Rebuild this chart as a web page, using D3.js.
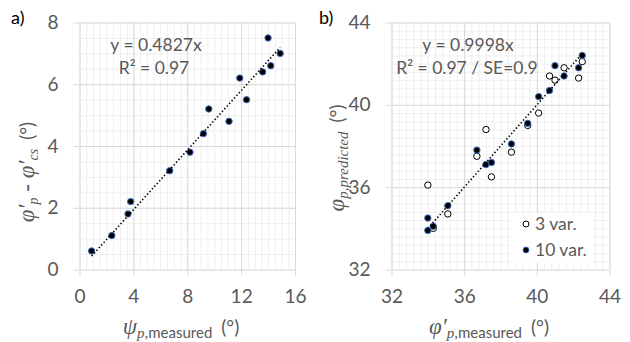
<!DOCTYPE html>
<html>
<head>
<script src="https://d3js.org/d3.v7.min.js"></script>
<style>
  body { margin: 0; background: #fff; }
  .tick text { font-family: Lato, "Open Sans", sans-serif; font-size: 19px; fill: #595959; }
  .grid line { stroke: #d9d9d9; }
  .minor line { stroke: #efefef; }
  .grid path, .minor path { display: none; }
  .ann { font-family: Lato, "Open Sans", sans-serif; font-size: 17.5px; fill: #595959; }
  .title { font-family: Lato, "Open Sans", sans-serif; font-size: 19px; fill: #595959; }
  .greek { font-family: "Liberation Serif", "DejaVu Serif", serif; font-style: italic; }
</style>
</head>
<body>
<svg width="630" height="342"></svg>
<script>
// panel a) data
const aMeasured = [0.9, 2.4, 3.6, 3.8, 6.7, 8.2, 9.2, 9.6, 11.1, 11.9, 12.4, 13.6, 14.0, 14.2, 14.9];
const aDiff     = [0.6, 1.1, 1.8, 2.2, 3.2, 3.8, 4.4, 5.2, 4.8, 6.2, 5.5, 6.4, 7.5, 6.6, 7.0];
const aSlope = 0.4827;
const aTrendX = [0.9, 14.9];
const aXTicks = [0, 4, 8, 12, 16];
const aYTicks = [0, 2, 4, 6, 8];

// panel b) data
const b10Measured  = [34.0, 34.0, 34.3, 35.1, 36.7, 37.2, 37.5, 38.6, 39.5, 40.1, 40.7, 41.0, 41.5, 42.3, 42.5];
const b10Predicted = [33.9, 34.5, 34.1, 35.1, 37.8, 37.1, 37.2, 38.1, 39.1, 40.4, 40.7, 41.9, 41.4, 41.8, 42.4];
const b3Measured   = [34.0, 34.3, 35.1, 36.7, 37.2, 37.5, 38.6, 39.5, 40.1, 40.7, 41.0, 41.5, 42.3, 42.5];
const b3Predicted  = [36.1, 34.0, 34.7, 37.5, 38.8, 36.5, 37.7, 39.0, 39.6, 41.4, 41.2, 41.8, 41.3, 42.1];
const bSlope = 0.9998;
const bTrendX = [34.0, 42.5];
const bTicks = [32, 36, 40, 44];

const svg = d3.select("svg");

function panel(opt) {
  const x = d3.scaleLinear().domain(opt.xDomain).range(opt.xRange);
  const y = d3.scaleLinear().domain(opt.yDomain).range(opt.yRange);
  const g = svg.append("g");
  const h = opt.yRange[0] - opt.yRange[1];
  const w = opt.xRange[1] - opt.xRange[0];

  // minor gridlines
  g.append("g").attr("class", "minor")
    .attr("transform", "translate(0," + opt.yRange[0] + ")")
    .call(d3.axisBottom(x).tickValues(d3.range(opt.xDomain[0], opt.xDomain[1] + 1e-9, opt.minor)).tickSize(-h).tickFormat(""));
  g.append("g").attr("class", "minor")
    .attr("transform", "translate(" + opt.xRange[0] + ",0)")
    .call(d3.axisLeft(y).tickValues(d3.range(opt.yDomain[0], opt.yDomain[1] + 1e-9, opt.minor)).tickSize(-w).tickFormat(""));

  // major gridlines + axes
  g.append("g").attr("class", "grid")
    .attr("transform", "translate(0," + opt.yRange[0] + ")")
    .call(d3.axisBottom(x).tickValues(opt.xTicks).tickSize(-h).tickFormat(""));
  g.append("g").attr("class", "grid")
    .attr("transform", "translate(" + opt.xRange[0] + ",0)")
    .call(d3.axisLeft(y).tickValues(opt.yTicks).tickSize(-w).tickFormat(""));
  g.append("g").attr("class", "grid")
    .attr("transform", "translate(0," + opt.yRange[0] + ")")
    .call(d3.axisBottom(x).tickValues(opt.xTicks).tickSize(6).tickPadding(14));
  g.append("g").attr("class", "grid")
    .attr("transform", "translate(" + opt.xRange[0] + ",0)")
    .call(d3.axisLeft(y).tickValues(opt.yTicks).tickSize(6).tickPadding(15));

  // series
  (opt.series || []).forEach(s => {
    g.append("g").selectAll("circle")
      .data(s.xs.map((v, i) => [v, s.ys[i]]))
      .join("circle")
      .attr("cx", d => x(d[0]))
      .attr("cy", d => y(d[1]))
      .attr("r", 3.2)
      .attr("fill", s.fill)
      .attr("stroke", s.stroke)
      .attr("stroke-width", 1);
  });

  // trendline
  g.append("line")
    .attr("x1", x(opt.trendX[0])).attr("y1", y(opt.slope * opt.trendX[0]))
    .attr("x2", x(opt.trendX[1])).attr("y2", y(opt.slope * opt.trendX[1]))
    .attr("stroke", "#000").attr("stroke-width", 1.6)
    .attr("stroke-dasharray", "1.4,2.2");
  return {x, y, g};
}

const pa = panel({
  xDomain: [0, 16], yDomain: [0, 8],
  xRange: [79.5, 295], yRange: [269.5, 22.5],
  xTicks: aXTicks, yTicks: aYTicks, minor: 0.5,
  trendX: aTrendX, slope: aSlope,
  series: [{xs: aMeasured, ys: aDiff, fill: "#000", stroke: "#4472c4"}]
});

const pb = panel({
  xDomain: [32, 44], yDomain: [32, 44],
  xRange: [391.5, 609.5], yRange: [269.5, 22.5],
  xTicks: bTicks, yTicks: bTicks, minor: 0.4,
  trendX: bTrendX, slope: bSlope,
  series: [
    {xs: b3Measured, ys: b3Predicted, fill: "#fff", stroke: "#000"},
    {xs: b10Measured, ys: b10Predicted, fill: "#000", stroke: "#4472c4"}
  ]
});

// panel letters
svg.append("text").attr("x", 11).attr("y", 24)
  .style("font-family", "Lato, sans-serif").style("font-size", "18px").text("a)");
svg.append("text").attr("x", 319).attr("y", 24)
  .style("font-family", "Lato, sans-serif").style("font-size", "18px").text("b)");

// equations
svg.append("text").attr("class", "ann").attr("text-anchor", "middle")
  .attr("x", 156).attr("y", 51).text("y = 0.4827x");
svg.append("text").attr("class", "ann").attr("text-anchor", "middle")
  .attr("x", 154).attr("y", 74).text("R² = 0.97");
svg.append("text").attr("class", "ann").attr("text-anchor", "middle")
  .attr("x", 468).attr("y", 51).text("y = 0.9998x");
svg.append("text").attr("class", "ann").attr("text-anchor", "middle")
  .attr("x", 467).attr("y", 74).text("R² = 0.97 / SE=0.9");

// legend
const lg = svg.append("g").attr("transform", "translate(510,213)");
lg.append("rect").attr("width", 83).attr("height", 50).attr("fill", "#fff");
lg.append("circle").attr("cx", 16).attr("cy", 11).attr("r", 3)
  .attr("fill", "#fff").attr("stroke", "#000");
lg.append("text").attr("class", "ann").attr("x", 25).attr("y", 17).text("3 var.");
lg.append("circle").attr("cx", 16).attr("cy", 37).attr("r", 3)
  .attr("fill", "#000").attr("stroke", "#4472c4");
lg.append("text").attr("class", "ann").attr("x", 25).attr("y", 43).text("10 var.");

// axis titles
const ta = svg.append("text").attr("class", "title").attr("text-anchor", "middle")
  .attr("x", 181).attr("y", 334);
ta.append("tspan").attr("class", "greek").style("font-size", "23px").text("ψ");
ta.append("tspan").attr("class", "greek").style("font-size", "15px").attr("dy", 4).text("p,");
ta.append("tspan").style("font-size", "15px").text("measured");
ta.append("tspan").attr("dy", -4).attr("dx", 9).text("(°)");

const ya = svg.append("text").attr("class", "title").attr("text-anchor", "middle")
  .attr("transform", "translate(34,172) rotate(-90)");
ya.append("tspan").attr("class", "greek").style("font-size", "23px").text("φ′");
ya.append("tspan").attr("class", "greek").style("font-size", "14px").attr("dy", 4).text("p");
ya.append("tspan").attr("class", "greek").style("font-size", "23px").attr("dy", -4).text(" - φ′");
ya.append("tspan").attr("class", "greek").style("font-size", "14px").attr("dy", 4).text("cs");
ya.append("tspan").attr("dy", -4).attr("dx", 9).text("(°)");

const tb = svg.append("text").attr("class", "title").attr("text-anchor", "middle")
  .attr("x", 489).attr("y", 334);
tb.append("tspan").attr("class", "greek").style("font-size", "23px").text("φ′");
tb.append("tspan").attr("class", "greek").style("font-size", "15px").attr("dy", 4).text("p,");
tb.append("tspan").style("font-size", "15px").text("measured");
tb.append("tspan").attr("dy", -4).attr("dx", 9).text("(°)");

const yb = svg.append("text").attr("class", "title").attr("text-anchor", "middle")
  .attr("transform", "translate(344,158) rotate(-90)");
yb.append("tspan").attr("class", "greek").style("font-size", "23px").text("φ");
yb.append("tspan").attr("class", "greek").style("font-size", "15px").attr("dy", 4).text("p,predicted");
yb.append("tspan").attr("dy", -4).attr("dx", 9).text("(°)");
</script>
</body>
</html>
